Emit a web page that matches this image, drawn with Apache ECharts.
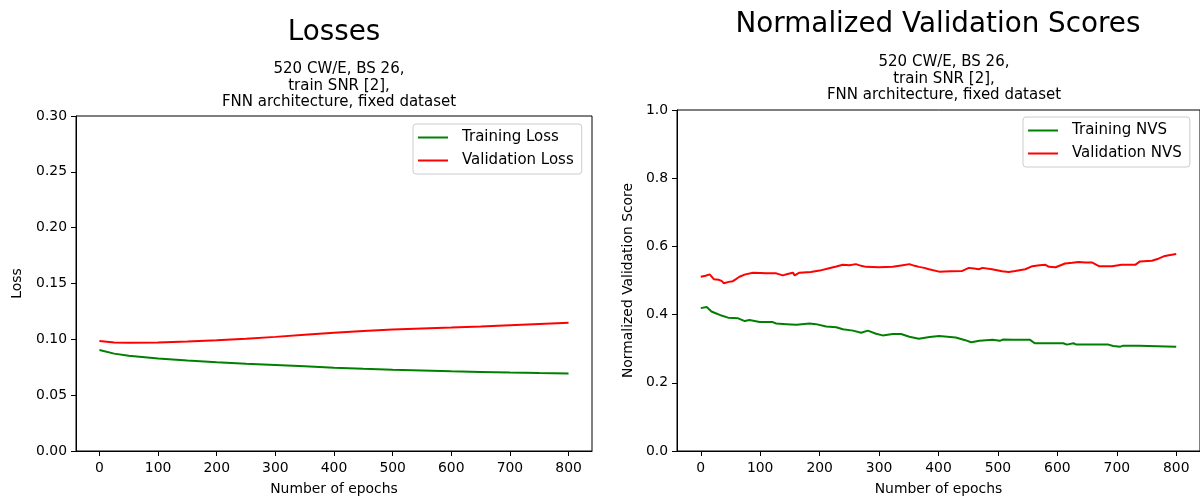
<!DOCTYPE html>
<html>
<head>
<meta charset="utf-8">
<script src="https://cdn.jsdelivr.net/npm/echarts@6/dist/echarts.min.js"></script>
<style>
  html, body { margin: 0; padding: 0; background: #fff; }
  #chart { width: 1200px; height: 501px; }
</style>
</head>
<body>
<div id="chart"></div>
<script>
// tick labels
const epochTicks = [0, 100, 200, 300, 400, 500, 600, 700, 800];

// losses (left)
const lossEpochs = [0, 25, 50, 100, 150, 200, 250, 300, 350, 400, 450, 500, 550, 600, 650, 700, 750, 800];
const trainingLoss = [0.0905, 0.0872, 0.0852, 0.0828, 0.0810, 0.0795, 0.0782, 0.0770, 0.0758, 0.0746, 0.0736, 0.0728, 0.0721, 0.0714, 0.0708, 0.0702, 0.0698, 0.0695];
const validationLoss = [0.0985, 0.0972, 0.0970, 0.0972, 0.0980, 0.0992, 0.1006, 0.1022, 0.1040, 0.1058, 0.1075, 0.1088, 0.1097, 0.1105, 0.1115, 0.1127, 0.1138, 0.1148];

// normalized validation scores (right)
const nvsTrainEpochs = [0, 10, 18, 25, 32, 46, 63, 74, 82, 99, 121, 127, 144, 161, 183, 194, 211, 228, 239, 256, 270, 281, 295, 306, 323, 337, 351, 367, 385, 401, 415, 429, 445, 455, 469, 491, 503, 509, 526, 554, 562, 610, 616, 627, 632, 686, 694, 706, 711, 737, 739, 800];
const nvsTrain = [0.419, 0.422, 0.409, 0.404, 0.399, 0.391, 0.389, 0.381, 0.384, 0.378, 0.378, 0.374, 0.372, 0.370, 0.374, 0.372, 0.365, 0.363, 0.357, 0.353, 0.347, 0.353, 0.344, 0.339, 0.343, 0.343, 0.335, 0.329, 0.334, 0.337, 0.335, 0.333, 0.325, 0.319, 0.323, 0.326, 0.323, 0.327, 0.326, 0.326, 0.316, 0.316, 0.312, 0.316, 0.312, 0.312, 0.308, 0.306, 0.309, 0.309, 0.306, 0.306];
const nvsValEpochs = [0, 8, 15, 22, 30, 35, 39, 47, 54, 60, 65, 75, 88, 100, 110, 127, 138, 146, 155, 158, 166, 185, 200, 216, 228, 239, 250, 261, 270, 278, 300, 323, 340, 351, 360, 367, 376, 384, 401, 420, 440, 451, 460, 468, 474, 490, 507, 518, 529, 546, 558, 570, 580, 586, 597, 613, 625, 636, 647, 658, 670, 692, 708, 731, 739, 759, 770, 781, 790, 800];
const nvsVal = [0.511, 0.514, 0.518, 0.504, 0.502, 0.499, 0.492, 0.496, 0.498, 0.505, 0.511, 0.518, 0.523, 0.522, 0.521, 0.521, 0.515, 0.519, 0.523, 0.515, 0.523, 0.525, 0.529, 0.536, 0.541, 0.546, 0.545, 0.548, 0.543, 0.540, 0.539, 0.540, 0.545, 0.548, 0.543, 0.540, 0.537, 0.533, 0.526, 0.527, 0.528, 0.537, 0.535, 0.533, 0.537, 0.533, 0.527, 0.525, 0.528, 0.533, 0.542, 0.545, 0.546, 0.540, 0.539, 0.550, 0.552, 0.554, 0.553, 0.553, 0.542, 0.542, 0.546, 0.546, 0.556, 0.558, 0.564, 0.572, 0.575, 0.578];

const FONT = "DejaVu Sans";
const BASE = 13.9;
const SMALL_TITLE = 15;

function pairs(xs, ys) {
  return xs.map((x, i) => [x, ys[i]]);
}

function xAxisOpt(gridIndex) {
  return {
    type: "value",
    gridIndex,
    min: -40,
    max: 840,
    name: "Number of epochs",
    nameLocation: "middle",
    nameGap: 31,
    nameTextStyle: { color: "#000", fontSize: BASE, fontFamily: FONT },
    axisLine: { onZero: false, lineStyle: { color: "#000", width: 1 } },
    axisTick: { show: true, length: 5, lineStyle: { color: "#000" }, customValues: epochTicks },
    axisLabel: { color: "#000", fontSize: BASE, fontFamily: FONT, margin: 10, customValues: epochTicks },
    splitLine: { show: false },
  };
}

function yAxisOpt(gridIndex, max, interval, digits, name, gap) {
  return {
    type: "value",
    gridIndex,
    min: 0,
    max,
    interval,
    name,
    nameLocation: "middle",
    nameGap: gap,
    nameTextStyle: { color: "#000", fontSize: BASE, fontFamily: FONT },
    axisLine: { show: true, onZero: false, lineStyle: { color: "#000", width: 1 } },
    axisTick: { show: true, length: 5, lineStyle: { color: "#000" } },
    axisLabel: { color: "#000", fontSize: BASE, fontFamily: FONT, margin: 9, formatter: (v) => v.toFixed(digits) },
    splitLine: { show: false },
  };
}

function legendOpt(names, left, top) {
  return {
    data: names,
    orient: "vertical",
    left,
    top,
    icon: "rect",
    itemWidth: 30,
    itemHeight: 2,
    itemGap: 8,
    padding: [6, 8, 6, 5],
    borderColor: "#cccccc",
    borderWidth: 1,
    borderRadius: 3,
    backgroundColor: "rgba(255,255,255,0.8)",
    textStyle: { color: "#000", fontSize: 15, fontFamily: FONT, padding: [0, 0, 0, 9] },
  };
}

function lineSeries(name, data, color, xi) {
  return {
    name,
    type: "line",
    xAxisIndex: xi,
    yAxisIndex: xi,
    data,
    showSymbol: false,
    symbol: "none",
    lineStyle: { color, width: 2 },
    itemStyle: { color },
    animation: false,
  };
}

const subtitle = "520 CW/E, BS 26,\ntrain SNR [2],\nFNN architecture, fixed dataset";

const chart = echarts.init(document.getElementById("chart"));
chart.setOption({
  backgroundColor: "#fff",
  animation: false,
  title: [
    { text: "Losses", left: 329, top: 14, textAlign: "center", textStyle: { fontSize: 27.8, fontWeight: "normal", color: "#000", fontFamily: FONT } },
    { text: subtitle, left: 334, top: 56, textAlign: "center", textStyle: { fontSize: SMALL_TITLE, lineHeight: 16.6, fontWeight: "normal", color: "#000", fontFamily: FONT } },
    { text: "Normalized Validation Scores", left: 933, top: 6, textAlign: "center", textStyle: { fontSize: 27.8, fontWeight: "normal", color: "#000", fontFamily: FONT } },
    { text: subtitle, left: 939, top: 49, textAlign: "center", textStyle: { fontSize: SMALL_TITLE, lineHeight: 16.6, fontWeight: "normal", color: "#000", fontFamily: FONT } },
  ],
  legend: [
    legendOpt(["Training Loss", "Validation Loss"], 413, 124),
    legendOpt(["Training NVS", "Validation NVS"], 1023, 117),
  ],
  grid: [
    { left: 76, right: 608, top: 116, bottom: 49, show: true, borderColor: "#000", borderWidth: 1, backgroundColor: "transparent" },
    { left: 677, right: -2, top: 110, bottom: 50, show: true, borderColor: "#000", borderWidth: 1, backgroundColor: "transparent" },
  ],
  xAxis: [xAxisOpt(0), xAxisOpt(1)],
  yAxis: [
    yAxisOpt(0, 0.3, 0.05, 2, "Loss", 52),
    yAxisOpt(1, 1.0, 0.2, 1, "Normalized Validation Score", 42),
  ],
  series: [
    lineSeries("Training Loss", pairs(lossEpochs, trainingLoss), "#008000", 0),
    lineSeries("Validation Loss", pairs(lossEpochs, validationLoss), "#ff0000", 0),
    lineSeries("Training NVS", pairs(nvsTrainEpochs, nvsTrain), "#008000", 1),
    lineSeries("Validation NVS", pairs(nvsValEpochs, nvsVal), "#ff0000", 1),
  ],
});
</script>
</body>
</html>
